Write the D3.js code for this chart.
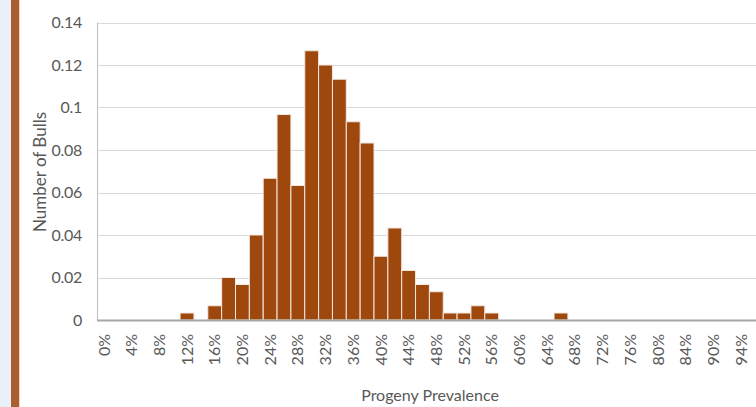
<!DOCTYPE html>
<html>
<head>
<meta charset="utf-8">
<script src="https://cdn.jsdelivr.net/npm/d3@7/dist/d3.min.js"></script>
<style>
  html, body { margin: 0; padding: 0; background: #ffffff; }
  svg { display: block; }
</style>
</head>
<body>
<svg id="chart" width="756" height="407"></svg>
<script>
// ---- data ----
const categories = ["0%","2%","4%","6%","8%","10%","12%","14%","16%","18%","20%","22%","24%","26%","28%","30%",
  "32%","34%","36%","38%","40%","42%","44%","46%","48%","50%","52%","54%","56%","58%","60%","62%",
  "64%","66%","68%","70%","72%","74%","76%","78%","80%","82%","84%","88%","90%","92%","94%","96%"];
const values = [0,0,0,0,0,0,0.0033,0,0.0067,0.0200,0.0167,0.0400,0.0667,0.0967,0.0633,0.1267,
  0.1200,0.1133,0.0933,0.0833,0.0300,0.0433,0.0233,0.0167,0.0133,0.0033,0.0033,0.0067,0.0033,0,0,0,
  0,0.0033,0,0,0,0,0,0,0,0,0,0,0,0,0,0];
const yTicks = [0,0.02,0.04,0.06,0.08,0.1,0.12,0.14];
const yTickLabels = ["0","0.02","0.04","0.06","0.08","0.1","0.12","0.14"];
const xTitle = "Progeny Prevalence";
const yTitle = "Number of Bulls";

// ---- layout ----
const svg = d3.select("#chart");
const W = 756, H = 407;
const mLeft = 97, mTop = 22.5, mBottom = 320;
const step = 13.85;
const mRight = mLeft + categories.length * step;

// page decoration (left strip)
svg.append("rect").attr("x",0).attr("y",0).attr("width",11).attr("height",H).attr("fill","#EAF0F8");
svg.append("rect").attr("x",11).attr("y",0).attr("width",8).attr("height",H).attr("fill","#A9602E");
svg.append("rect").attr("x",19).attr("y",0).attr("width",1).attr("height",H).attr("fill","#F2D6C2");

const x = d3.scaleBand().domain(categories).range([mLeft, mRight]).padding(0);
const y = d3.scaleLinear().domain([0, 0.14]).range([mBottom, mTop]);

const font = "Lato, 'Open Sans', sans-serif";
const textColor = "#595959";

// gridlines
svg.append("g").selectAll("line").data(yTicks.filter(d => d > 0)).join("line")
  .attr("x1", mLeft).attr("x2", W)
  .attr("y1", d => Math.round(y(d)) + 0.5).attr("y2", d => Math.round(y(d)) + 0.5)
  .attr("stroke", "#D9D9D9").attr("stroke-width", 1);

// bars
svg.append("g").selectAll("rect").data(values.map((v,i)=>({c:categories[i], v})).filter(d => d.v > 0)).join("rect")
  .attr("x", d => x(d.c))
  .attr("width", x.bandwidth())
  .attr("y", d => y(d.v))
  .attr("height", d => y(0) - y(d.v))
  .attr("fill", "#9E480E")
  .attr("stroke", "#F2E8E1")
  .attr("stroke-width", 1);

// y axis line
svg.append("line").attr("x1", mLeft + 0.5).attr("x2", mLeft + 0.5).attr("y1", mTop).attr("y2", mBottom)
  .attr("stroke", "#BFBFBF").attr("stroke-width", 1);
// x axis line
svg.append("line").attr("x1", mLeft).attr("x2", W).attr("y1", mBottom + 0.5).attr("y2", mBottom + 0.5)
  .attr("stroke", "#A6A6A6").attr("stroke-width", 2);

// y axis labels
const yAxis = d3.axisLeft(y).tickValues(yTicks).tickFormat((d,i) => yTickLabels[i]).tickSize(0).tickPadding(15);
const gy = svg.append("g").attr("transform", `translate(${mLeft},0)`).call(yAxis);
gy.select(".domain").remove();
gy.selectAll("text").attr("fill", textColor).style("font-family", font).style("font-size", "16px")
  .style("letter-spacing", "-0.3px");

// x axis labels (every other category)
const xAxis = d3.axisBottom(x).tickSize(0).tickFormat((d,i) => i % 2 === 0 ? d : "");
const gx = svg.append("g").attr("transform", `translate(0,${mBottom})`).call(xAxis);
gx.select(".domain").remove();
gx.selectAll("text")
  .attr("fill", textColor).style("font-family", font).style("font-size", "16px")
  .attr("text-anchor", "end")
  .attr("transform", "rotate(-90)")
  .attr("x", -14).attr("y", 0).attr("dy", "0.35em");

// titles
svg.append("text").attr("x", 430).attr("y", 401).attr("text-anchor", "middle")
  .attr("fill", textColor).style("font-family", font).style("font-size", "16px").text(xTitle);
svg.append("text").attr("transform", "translate(46,172) rotate(-90)").attr("text-anchor", "middle")
  .attr("fill", textColor).style("font-family", font).style("font-size", "17px").text(yTitle);
</script>
</body>
</html>
